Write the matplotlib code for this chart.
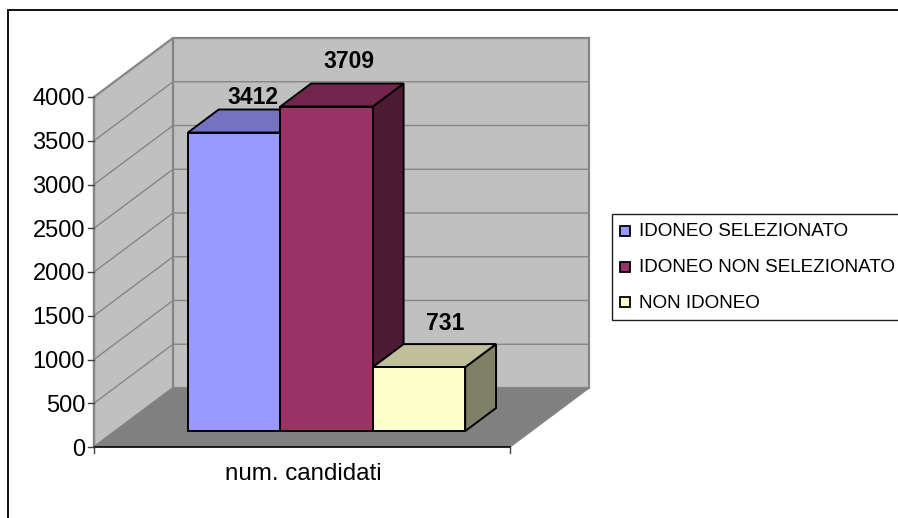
import matplotlib
matplotlib.use("Agg")
import matplotlib.pyplot as plt
from matplotlib.patches import Polygon, Rectangle

categories = ["num. candidati"]
series = ["IDONEO SELEZIONATO", "IDONEO NON SELEZIONATO", "NON IDONEO"]
values = [3412, 3709, 731]
yticks = [0, 500, 1000, 1500, 2000, 2500, 3000, 3500, 4000]
front_colors = ["#9999FF", "#993366", "#FFFFCC"]
top_colors = ["#7373BF", "#73264D", "#BFBF99"]
side_colors = ["#4D4D80", "#4D1A33", "#808066"]

W, H = 898, 518
X0, XW = 94, 416          # pixel left edge / width of the front floor line
Y0, YH = 447, 350         # pixel of value 0 / height of 4000
DX, DY = 79, 59           # oblique depth of the box in pixels
VMAX = 4000
px_v = VMAX / YH

fig = plt.figure(figsize=(W / 100, H / 100), dpi=100, facecolor="white")
ax = fig.add_axes([0, 0, 1, 1])
ax.set_xlim(-X0 / XW, (W - X0) / XW)
ax.set_ylim(-(H - Y0) * px_v, Y0 * px_v)
ax.axis("off")
FONT = "Liberation Sans"


def P(x, v, d=0.0):
    """Oblique projection: category position x, value v, depth d (0 front..1 back)."""
    return (x + d * DX / XW, v + d * DY * px_v)


WALL = "#C0C0C0"
EDGE = "#868686"
# walls and floor
ax.add_patch(Polygon([P(0, 0, 1), P(1, 0, 1), P(1, VMAX, 1), P(0, VMAX, 1)],
                     fc=WALL, ec=EDGE, lw=1.6, zorder=1))
ax.add_patch(Polygon([P(0, 0, 0), P(0, VMAX, 0), P(0, VMAX, 1), P(0, 0, 1)],
                     fc=WALL, ec=EDGE, lw=1.6, zorder=1.1))
ax.add_patch(Polygon([P(0, 0, 0), P(1, 0, 0), P(1, 0, 1), P(0, 0, 1)],
                     fc="#808080", ec="none", zorder=1.2))
a, b = P(1, 0, 0), P(1, 0, 1)
ax.plot([a[0], b[0]], [a[1], b[1]], color=EDGE, lw=1.0, zorder=1.3)
# gridlines
for t in yticks[1:-1]:
    xs, ys = zip(P(0, t, 0), P(0, t, 1), P(1, t, 1))
    ax.plot(xs, ys, color=EDGE, lw=1.0, zorder=1.5)

# bars
BAR_W = 0.2222
BAR_X0 = 0.1745
D0, D1 = 0.27, 0.66
label_dx = [-12, -8, -5]      # label nudges in pixels from the back top edge centre
label_dy = [6, 16, 14]
for i, (v, fc, tc, sc) in enumerate(zip(values, front_colors, top_colors, side_colors)):
    x0 = BAR_X0 + i * BAR_W
    x1 = x0 + BAR_W
    z = 3 + i * 0.1
    kw = dict(ec="black", lw=1.4, joinstyle="miter")
    ax.add_patch(Polygon([P(x1, 0, D0), P(x1, 0, D1), P(x1, v, D1), P(x1, v, D0)], fc=sc, zorder=z, **kw))
    ax.add_patch(Polygon([P(x0, v, D0), P(x1, v, D0), P(x1, v, D1), P(x0, v, D1)], fc=tc, zorder=z, **kw))
    ax.add_patch(Polygon([P(x0, 0, D0), P(x1, 0, D0), P(x1, v, D0), P(x0, v, D0)], fc=fc, zorder=z, **kw))
    tx, ty = P((x0 + x1) / 2, v, D1)
    ax.text(tx + label_dx[i] / XW, ty + label_dy[i] * px_v, f"{v}", ha="center", va="baseline",
            fontsize=16.5, fontweight="bold", family=FONT, color="black", zorder=6)

# axes lines, ticks, labels
ax.plot([0, 0], [0, VMAX], color=EDGE, lw=1.6, zorder=2)
ax.plot([0, 1], [0, 0], color="black", lw=1.2, zorder=2)
for t in yticks:
    ax.plot([-6 / XW, 0], [t, t], color="#404040", lw=1.0, zorder=2)
    ax.text(-9 / XW, t, f"{t}", ha="right", va="center_baseline", fontsize=17,
            family=FONT, color="black")
for x in (0, 1):
    ax.plot([x, x], [0, -6 * px_v], color="#404040", lw=1.0, zorder=2)
ax.text(0.503, -27 * px_v, categories[0], ha="center", va="center", fontsize=17.4,
        family=FONT, color="black")

# outer frame (pixel coordinates through the figure transform)
fx = lambda p: p / W
fy = lambda p: 1 - p / H
fig.add_artist(Rectangle((fx(8), fy(530)), 1.0, fy(10) - fy(530), transform=fig.transFigure,
                         fc="none", ec="#101010", lw=1.4, zorder=0))

# legend box, clipped by the figure's right edge
fig.add_artist(Rectangle((fx(611.5), fy(319.5)), 0.5, fy(213.5) - fy(319.5), transform=fig.transFigure,
                         fc="white", ec="#202020", lw=1.0, zorder=5))
for i, (s, fc) in enumerate(zip(series, front_colors)):
    yc = 231 + i * 35.5
    fig.add_artist(Rectangle((fx(620), fy(yc + 5)), 10 / W, 10 / H, transform=fig.transFigure,
                             fc=fc, ec="black", lw=1.3, zorder=6))
    fig.text(fx(639), fy(yc + 1), s, ha="left", va="center", fontsize=13.6, family=FONT,
             color="black", zorder=6)

fig.savefig("out.png", dpi=100)
